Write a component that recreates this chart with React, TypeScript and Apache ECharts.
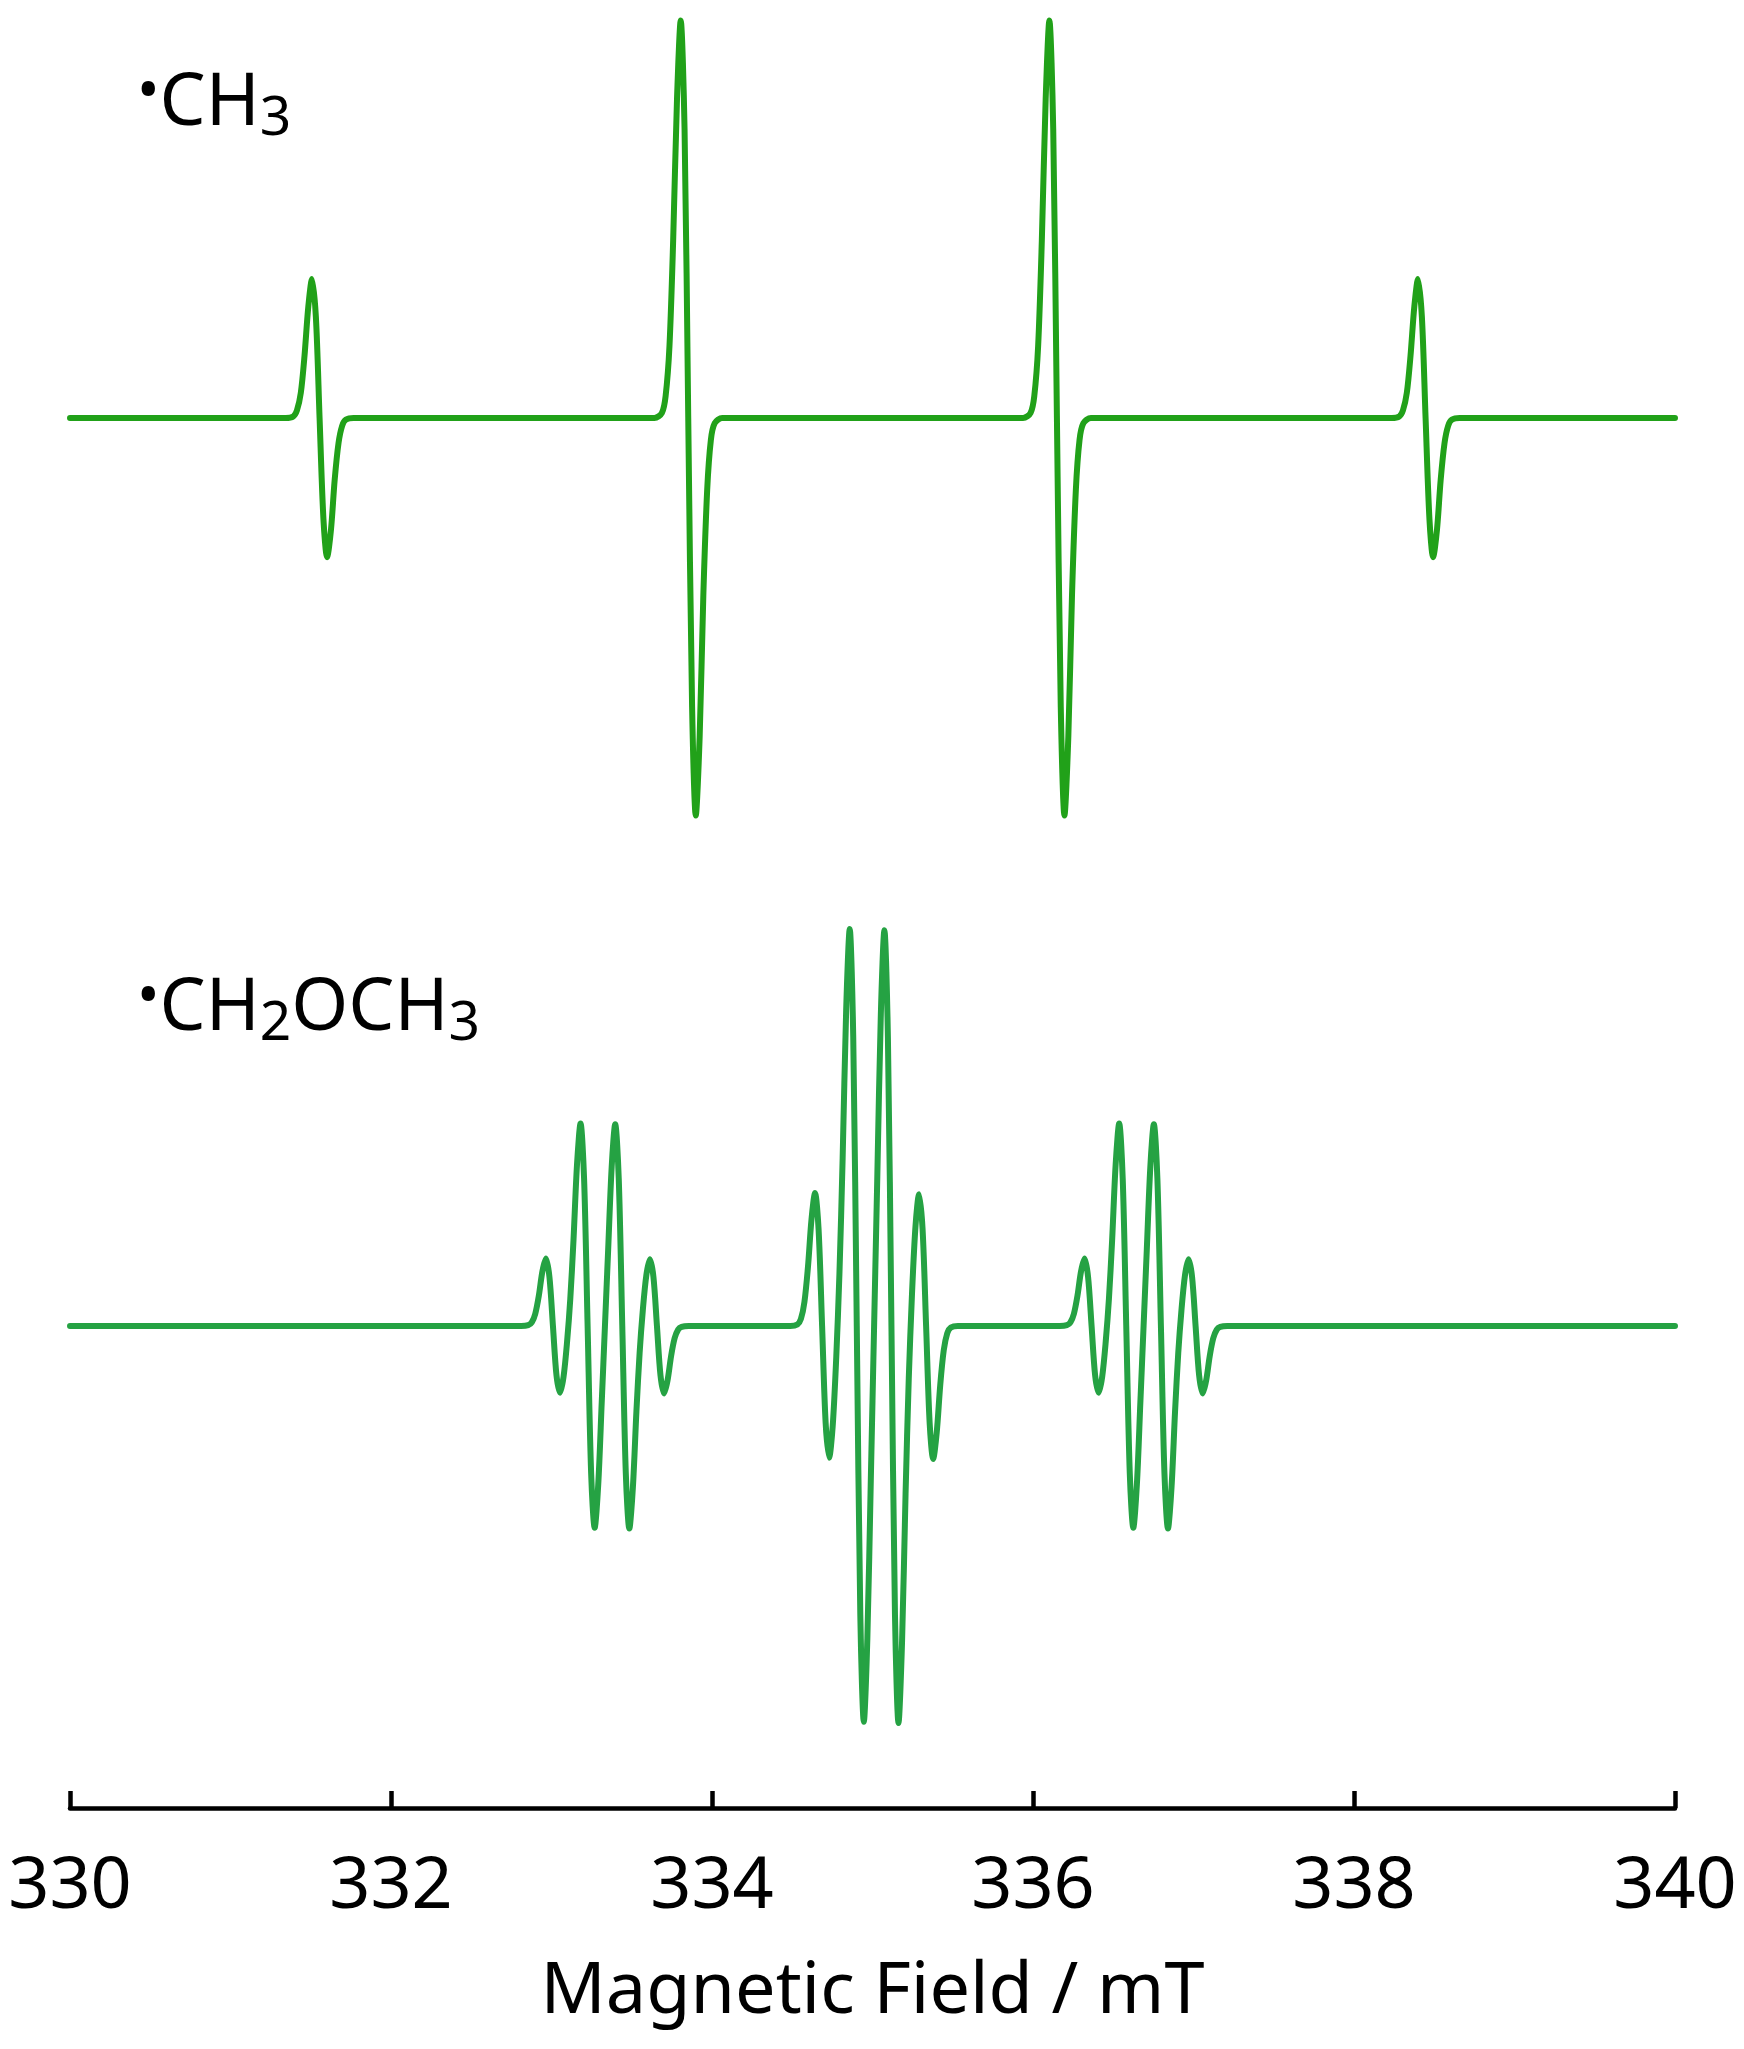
import React, { useEffect, useRef } from "react";
import * as echarts from "echarts";

// Field axis (mT)
const fieldMin = 330;
const fieldMax = 340;
const fieldStep = 2;
const axisTitle = "Magnetic Field / mT";

// Spectrum labels
const label1 = "{d|•}{m|CH}{s|3}";
const label2 = "{d|•}{m|CH}{s|2}{m|OCH}{s|3}";

// •CH3 spectrum: field (mT) and derivative signal (a.u.)
const ch3Field = [
  330,
  331.344, 331.391, 331.414, 331.438, 331.461, 331.485, 331.508, 331.532, 331.555,
  331.579, 331.602, 331.626, 331.649, 331.673, 331.696, 331.72, 331.767,
  333.641, 333.688, 333.711, 333.735, 333.758, 333.782, 333.805, 333.829, 333.852,
  333.876, 333.899, 333.923, 333.946, 333.97, 333.993, 334.017, 334.064,
  335.938, 335.985, 336.008, 336.032, 336.055, 336.079, 336.102, 336.126, 336.149,
  336.173, 336.196, 336.22, 336.243, 336.267, 336.29, 336.314, 336.361,
  338.235, 338.282, 338.305, 338.329, 338.352, 338.376, 338.399, 338.423, 338.446,
  338.47, 338.493, 338.517, 338.54, 338.564, 338.587, 338.611, 338.658,
  340,
];
const ch3Signal = [
  0,
  0, 0.4, 1.9, 6.3, 15.6, 28.1, 35, 25.4, 0,
  -25.4, -35, -28.1, -15.6, -6.3, -1.9, -0.4, 0,
  0, 1.3, 5.5, 18.1, 44.6, 80.3, 100, 72.7, 0,
  -72.7, -100, -80.3, -44.6, -18.1, -5.5, -1.3, 0,
  0, 1.3, 5.5, 18.1, 44.6, 80.3, 100, 72.7, 0,
  -72.7, -100, -80.3, -44.6, -18.1, -5.5, -1.3, 0,
  0, 0.4, 1.9, 6.3, 15.6, 28.1, 35, 25.4, 0,
  -25.4, -35, -28.1, -15.6, -6.3, -1.9, -0.4, 0,
  0,
];

// •CH2OCH3 spectrum: field (mT) and derivative signal (a.u.)
const ch2och3Field = [
  330,
  332.811, 332.855, 332.877, 332.899, 332.921, 332.943, 332.965, 332.987, 333.009,
  333.031, 333.053, 333.075, 333.097, 333.117, 333.137, 333.159, 333.181, 333.203, 333.225,
  333.247, 333.269, 333.291, 333.313, 333.333, 333.353, 333.375, 333.397, 333.419, 333.441,
  333.463, 333.485, 333.507, 333.529, 333.549, 333.569, 333.591, 333.613, 333.635, 333.657,
  333.679, 333.701, 333.723, 333.745, 333.767, 333.789, 333.811, 333.855,
  334.488, 334.532, 334.554, 334.576, 334.598, 334.62, 334.642, 334.664, 334.686,
  334.708, 334.73, 334.752, 334.774, 334.794, 334.814, 334.836, 334.858, 334.88, 334.902,
  334.924, 334.946, 334.968, 334.99, 335.01, 335.03, 335.052, 335.074, 335.096, 335.118,
  335.14, 335.162, 335.184, 335.206, 335.226, 335.246, 335.268, 335.29, 335.312, 335.334,
  335.356, 335.378, 335.4, 335.422, 335.444, 335.466, 335.488, 335.532,
  336.167, 336.211, 336.233, 336.255, 336.277, 336.299, 336.321, 336.343, 336.365,
  336.387, 336.409, 336.431, 336.453, 336.473, 336.493, 336.515, 336.537, 336.559, 336.581,
  336.603, 336.625, 336.647, 336.669, 336.689, 336.709, 336.731, 336.753, 336.775, 336.797,
  336.819, 336.841, 336.863, 336.885, 336.905, 336.925, 336.947, 336.969, 336.991, 337.013,
  337.035, 337.057, 337.079, 337.101, 337.123, 337.145, 337.167, 337.211,
  340,
];
const ch2och3Signal = [
  0,
  0, 0.2, 0.9, 3.1, 7.6, 13.7, 17, 12.4, 0,
  -12.4, -16.8, -12.8, -4.0, 6.8, 21.6, 40.7, 51, 37.1, 0,
  -37.1, -50.8, -40.1, -19.2, 0, 19.2, 40.1, 50.8, 37.1, 0,
  -37.1, -51, -40.7, -21.6, -6.8, 4.0, 12.8, 16.8, 12.4, 0,
  -12.4, -17, -13.7, -7.6, -3.1, -0.9, -0.2, 0,
  0, 0.4, 1.8, 6.1, 14.9, 26.9, 33.5, 24.4, 0,
  -24.4, -33.2, -25.2, -8.0, 13.2, 42.3, 79.7, 100, 72.7, 0,
  -72.7, -99.7, -78.6, -37.7, 0, 37.7, 78.6, 99.7, 72.7, 0,
  -72.7, -100, -79.7, -42.3, -13.2, 8.0, 25.2, 33.2, 24.4, 0,
  -24.4, -33.5, -26.9, -14.9, -6.1, -1.8, -0.4, 0,
  0, 0.2, 0.9, 3.1, 7.6, 13.7, 17, 12.4, 0,
  -12.4, -16.8, -12.8, -4.0, 6.8, 21.6, 40.7, 51, 37.1, 0,
  -37.1, -50.8, -40.1, -19.2, 0, 19.2, 40.1, 50.8, 37.1, 0,
  -37.1, -51, -40.7, -21.6, -6.8, 4.0, 12.8, 16.8, 12.4, 0,
  -12.4, -17, -13.7, -7.6, -3.1, -0.9, -0.2, 0,
  0,
];

const zip = (xs: number[], ys: number[]) => xs.map((x, i) => [x, ys[i]]);

export default function App() {
  const ref = useRef<HTMLDivElement>(null);

  useEffect(() => {
    document.body.style.margin = "0";
    const chart = echarts.init(ref.current!, null, { renderer: "svg" });
    const font = "Noto Sans";
    const rich = {
      d: { fontSize: 60, fontFamily: font, fill: "#000", padding: [0, 0, 17, 0] },
      m: { fontSize: 73, fontFamily: font, fill: "#000" },
      s: { fontSize: 55, fontFamily: font, fill: "#000", padding: [34, 0, 0, 0] },
    };
    chart.setOption({
      animation: false,
      backgroundColor: "#ffffff",
      grid: [
        { left: 70, right: 69, top: 20.5, height: 795 },
        { left: 70, right: 69, top: 929, height: 794 },
      ],
      xAxis: [
        { gridIndex: 0, type: "value", min: fieldMin, max: fieldMax, show: false },
        {
          gridIndex: 1,
          type: "value",
          min: fieldMin,
          max: fieldMax,
          interval: fieldStep,
          position: "bottom",
          offset: 85,
          axisLine: { show: true, onZero: false, lineStyle: { color: "#000", width: 4.5 } },
          axisTick: { show: true, inside: true, length: 17, lineStyle: { color: "#000", width: 4.5 } },
          axisLabel: { show: true, color: "#000", fontSize: 72, fontFamily: font, margin: 36 },
          splitLine: { show: false },
          name: axisTitle,
          nameLocation: "middle",
          nameGap: 141,
          nameTextStyle: { color: "#000", fontSize: 72, fontFamily: font },
        },
      ],
      yAxis: [
        { gridIndex: 0, type: "value", min: -100, max: 100, show: false },
        { gridIndex: 1, type: "value", min: -100, max: 100, show: false },
      ],
      series: [
        {
          type: "line",
          xAxisIndex: 0,
          yAxisIndex: 0,
          data: zip(ch3Field, ch3Signal),
          showSymbol: false,
          symbol: "none",
          smooth: 0.3,
          clip: false,
          lineStyle: { color: "#21a119", width: 6, join: "round", cap: "round" },
        },
        {
          type: "line",
          xAxisIndex: 1,
          yAxisIndex: 1,
          data: zip(ch2och3Field, ch2och3Signal),
          showSymbol: false,
          symbol: "none",
          smooth: 0.3,
          clip: false,
          lineStyle: { color: "#25a243", width: 6, join: "round", cap: "round" },
        },
      ],
      graphic: [
        {
          type: "text",
          x: 137,
          y: 96,
          style: { text: label1, rich, fill: "#000", fontFamily: font, fontSize: 73, align: "left", verticalAlign: "middle" },
        },
        {
          type: "text",
          x: 137,
          y: 1001.5,
          style: { text: label2, rich, fill: "#000", fontFamily: font, fontSize: 73, align: "left", verticalAlign: "middle" },
        },
      ],
    });
    return () => chart.dispose();
  }, []);

  return (
    <div
      ref={ref}
      style={{ position: "absolute", left: 0, top: 0, width: 1744, height: 2049 }}
    />
  );
}
